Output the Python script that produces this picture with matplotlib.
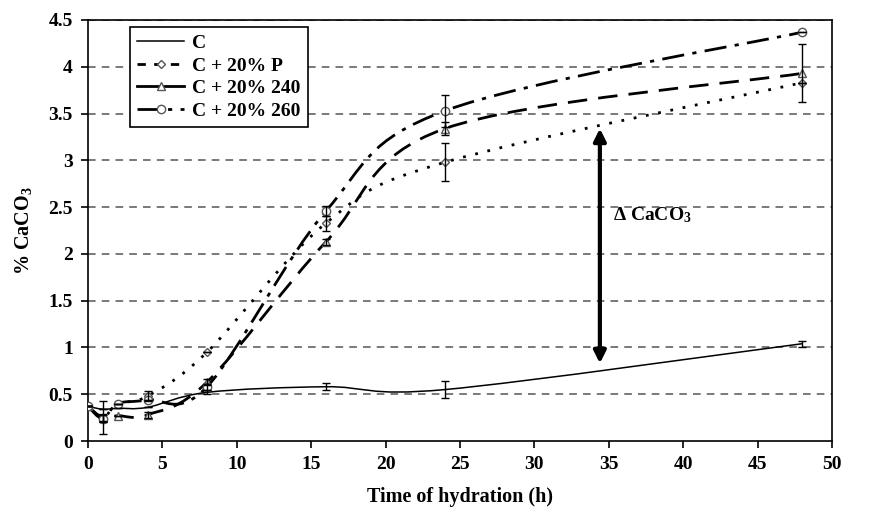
import numpy as np
import matplotlib
matplotlib.use("Agg")
import matplotlib.pyplot as plt
from matplotlib.path import Path
from matplotlib.patches import PathPatch
from matplotlib.lines import Line2D

plt.rcParams['font.family'] = ['Liberation Serif', 'DejaVu Serif']
plt.rcParams['font.weight'] = 'bold'
plt.rcParams['mathtext.fontset'] = 'custom'
plt.rcParams['mathtext.rm'] = 'Liberation Serif:bold'
plt.rcParams['mathtext.bf'] = 'Liberation Serif:bold'
plt.rcParams['mathtext.it'] = 'Liberation Serif:bold'
plt.rcParams['mathtext.default'] = 'bf'

# hydration time (h)
hours = [0, 1, 2, 4, 8, 16, 24, 48]

# % CaCO3 per mix
c_ref = [0.37, 0.34, 0.35, 0.36, 0.52, 0.58, 0.55, 1.04]
c_p = [0.37, 0.25, 0.40, 0.48, 0.95, 2.33, 2.98, 3.83]
c_240 = [0.37, 0.25, 0.27, 0.28, 0.63, 2.13, 3.34, 3.93]
c_260 = [0.37, 0.24, 0.40, 0.44, 0.58, 2.46, 3.53, 4.37]

# error bars
err_ref = [0, 0, 0, 0, 0.02, 0.04, 0.09, 0.03]
err_p = [0, 0.18, 0, 0.05, 0, 0.08, 0.20, 0]
err_240 = [0, 0.04, 0, 0.03, 0.03, 0.03, 0.07, 0.31]
err_260 = [0, 0.04, 0, 0, 0.03, 0.05, 0.17, 0]

labels = ['C', 'C + 20% P', 'C + 20% 240', 'C + 20% 260']


def smooth_path(x, y):
    """Excel-like smoothed line as a cubic Bezier path."""
    pts = np.column_stack([x, y]).astype(float)
    n = len(pts)
    verts = [pts[0]]
    codes = [Path.MOVETO]
    for i in range(n - 1):
        p0 = pts[i - 1] if i > 0 else pts[i]
        p1 = pts[i]
        p2 = pts[i + 1]
        p3 = pts[i + 2] if i + 2 < n else pts[i + 1]
        verts += [p1 + (p2 - p0) / 6.0, p2 - (p3 - p1) / 6.0, p2]
        codes += [Path.CURVE4] * 3
    return Path(verts, codes)


fig = plt.figure(figsize=(8.8, 5.18), dpi=100)
ax = fig.add_axes([88 / 880, 1 - 441 / 518, 744 / 880, 421 / 518])

for yv in np.arange(0.5, 4.51, 0.5):
    ax.axhline(yv, color='#555555', lw=1.1, ls=(0, (5, 4)), zorder=1)

series = [
    (c_ref, err_ref, '-', 1.1, None),
    (c_p, err_p, (0, (1, 3.5)), 2.0, 'D'),
    (c_240, err_240, (0, (7, 4)), 2.0, '^'),
    (c_260, err_260, (0, (8, 3, 1.5, 3)), 2.0, 'o'),
]

for vals, errs, ls, lw, mk in series:
    ax.add_patch(PathPatch(smooth_path(hours, vals), fill=False,
                           edgecolor='black', lw=lw, ls=ls, zorder=3))
    if mk is not None:
        ms = 4.5 if mk == 'D' else 6
        ax.plot(hours, vals, ls='none', marker=mk, ms=ms, mfc='white',
                mec='#555555', mew=1.0, zorder=4)
    ax.errorbar(hours, vals, yerr=errs, fmt='none', ecolor='black',
                elinewidth=1.0, capsize=3, capthick=1.0, zorder=5)

# difference arrow
ax.annotate('', xy=(34.4, 0.80), xytext=(34.4, 3.37),
            arrowprops=dict(arrowstyle='<|-|>', color='black', lw=3,
                            mutation_scale=18))
ax.text(35.3, 2.41, r'$\Delta$ CaCO$_3$', fontsize=14,
        fontweight='bold', va='center', ha='left')

ax.set_xlim(0, 50)
ax.set_ylim(0, 4.5)
ax.set_xticks(range(0, 51, 5))
ax.set_yticks(np.arange(0, 4.51, 0.5))
ax.set_yticklabels(['0', '0.5', '1', '1.5', '2', '2.5', '3', '3.5', '4', '4.5'])
ax.tick_params(labelsize=14, direction='out', length=5, width=1.2, pad=6)
for sp in ax.spines.values():
    sp.set_linewidth(1.2)
ax.set_xlabel('Time of hydration (h)', fontsize=14.5, fontweight='bold',
              labelpad=10)
ax.set_ylabel(r'% CaCO$_3$', fontsize=14.5, fontweight='bold',
              labelpad=10)

handles = [
    Line2D([], [], color='black', lw=1.1),
    Line2D([], [], color='black', lw=2, ls=(0, (3, 3)), marker='D', ms=4.5,
           mfc='white', mec='#555555'),
    Line2D([], [], color='black', lw=2, marker='^', ms=6,
           mfc='white', mec='#555555'),
    Line2D([], [], color='black', lw=2, ls=(0, (8, 3, 1.5, 3)), marker='o',
           ms=6, mfc='white', mec='#555555'),
]
leg = ax.legend(handles, labels, loc='upper left', bbox_to_anchor=(0.056, 0.984),
                borderaxespad=0, prop={'size': 14, 'weight': 'bold'},
                frameon=True, fancybox=False, edgecolor='black', framealpha=1,
                handlelength=2.4, borderpad=0.4, labelspacing=0.25,
                handletextpad=0.4)
leg.get_frame().set_linewidth(1.2)

fig.savefig('out.png', dpi=100)
